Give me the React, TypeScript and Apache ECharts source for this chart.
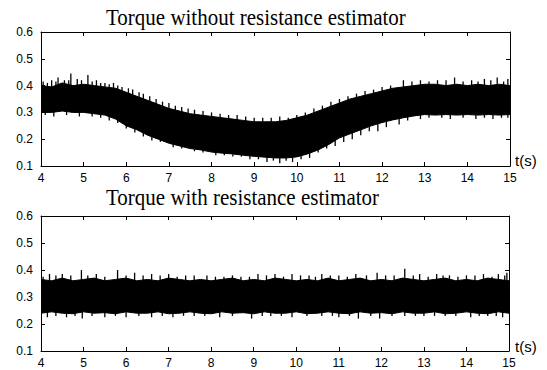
import React, { useEffect, useRef } from "react";
import * as echarts from "echarts";

// time samples of the envelope (s)
const times = [4, 4.25, 4.5, 4.75, 5, 5.25, 5.5, 5.75, 6, 6.25, 6.5, 6.75, 7, 7.25, 7.5, 7.75, 8, 8.25, 8.5, 8.75, 9, 9.25, 9.5, 9.75, 10, 10.25, 10.5, 10.75, 11, 11.25, 11.5, 11.75, 12, 12.25, 12.5, 12.75, 13, 13.25, 13.5, 13.75, 14, 14.25, 14.5, 14.75, 15];

// Torque without resistance estimator: band envelope
const withoutUpper = [0.40, 0.395, 0.41, 0.40, 0.405, 0.40, 0.395, 0.39, 0.375, 0.36, 0.345, 0.33, 0.315, 0.305, 0.295, 0.29, 0.285, 0.28, 0.275, 0.27, 0.265, 0.265, 0.265, 0.27, 0.28, 0.29, 0.305, 0.32, 0.335, 0.35, 0.36, 0.37, 0.38, 0.39, 0.395, 0.40, 0.405, 0.405, 0.40, 0.405, 0.40, 0.405, 0.40, 0.405, 0.40];
const withoutLower = [0.30, 0.30, 0.305, 0.30, 0.30, 0.295, 0.29, 0.275, 0.25, 0.235, 0.215, 0.20, 0.185, 0.175, 0.165, 0.16, 0.152, 0.148, 0.145, 0.14, 0.136, 0.133, 0.13, 0.13, 0.134, 0.145, 0.16, 0.18, 0.205, 0.22, 0.235, 0.25, 0.262, 0.272, 0.28, 0.287, 0.292, 0.29, 0.292, 0.29, 0.292, 0.29, 0.292, 0.29, 0.292];
// spikes: [t, from, to]
const withoutSpikes = [
  [4.05, 0.36, 0.415], [4.25, 0.36, 0.42], [4.4, 0.36, 0.43], [4.55, 0.36, 0.42], [4.7, 0.36, 0.445], [4.85, 0.36, 0.425], [5.1, 0.36, 0.44], [5.3, 0.36, 0.42], [5.5, 0.35, 0.41], [5.7, 0.34, 0.41], [5.9, 0.33, 0.395], [6.15, 0.31, 0.385], [6.4, 0.29, 0.37], [6.7, 0.27, 0.35], [7.0, 0.25, 0.335], [7.3, 0.24, 0.32], [7.6, 0.23, 0.31], [8.0, 0.22, 0.30], [8.4, 0.21, 0.29], [8.8, 0.2, 0.285], [9.2, 0.2, 0.28], [9.6, 0.2, 0.285], [10.0, 0.2, 0.29], [10.4, 0.23, 0.315], [10.8, 0.25, 0.34], [11.2, 0.28, 0.36], [11.6, 0.3, 0.38], [12.0, 0.32, 0.395], [12.5, 0.34, 0.42], [12.9, 0.35, 0.42], [13.3, 0.35, 0.42], [13.7, 0.35, 0.43], [14.1, 0.35, 0.42], [14.4, 0.35, 0.425], [14.7, 0.35, 0.43], [14.95, 0.35, 0.425],
  [4.15, 0.36, 0.41], [4.35, 0.36, 0.415], [4.65, 0.36, 0.42], [4.95, 0.36, 0.42], [5.2, 0.36, 0.415], [5.4, 0.35, 0.41], [5.6, 0.35, 0.405], [5.8, 0.34, 0.40], [6.05, 0.32, 0.39], [6.3, 0.3, 0.375], [6.55, 0.28, 0.36], [6.85, 0.26, 0.34], [7.15, 0.25, 0.325], [7.45, 0.24, 0.315], [7.8, 0.23, 0.305], [8.2, 0.22, 0.295], [8.6, 0.21, 0.29], [9.0, 0.2, 0.28], [9.4, 0.2, 0.28], [9.8, 0.2, 0.28], [10.2, 0.22, 0.30], [10.6, 0.24, 0.325], [11.0, 0.27, 0.35], [11.4, 0.29, 0.37], [11.8, 0.31, 0.385], [12.2, 0.33, 0.40], [12.7, 0.34, 0.415], [13.1, 0.35, 0.415], [13.5, 0.35, 0.42], [13.9, 0.35, 0.415], [14.25, 0.35, 0.415], [14.55, 0.35, 0.42], [14.85, 0.35, 0.415],
  [4.3, 0.35, 0.285], [4.9, 0.35, 0.285], [5.6, 0.34, 0.27], [6.2, 0.3, 0.225], [6.6, 0.28, 0.195], [7.1, 0.25, 0.17], [7.6, 0.23, 0.155], [8.1, 0.22, 0.14], [8.5, 0.21, 0.135], [8.9, 0.2, 0.125], [9.3, 0.2, 0.115], [9.6, 0.2, 0.11], [9.9, 0.2, 0.115], [10.3, 0.21, 0.13], [10.9, 0.26, 0.175], [11.3, 0.28, 0.2], [11.9, 0.31, 0.23], [12.4, 0.33, 0.255], [12.9, 0.35, 0.275], [13.6, 0.35, 0.275], [14.2, 0.35, 0.275], [14.6, 0.35, 0.275], [14.95, 0.35, 0.28],
  [4.1, 0.35, 0.29], [4.6, 0.35, 0.29], [5.2, 0.35, 0.285], [5.4, 0.34, 0.28], [5.8, 0.33, 0.26], [6.0, 0.31, 0.24], [6.4, 0.29, 0.21], [6.8, 0.26, 0.19], [7.3, 0.24, 0.165], [7.8, 0.23, 0.15], [8.3, 0.21, 0.14], [8.7, 0.2, 0.135], [9.1, 0.2, 0.125], [9.45, 0.2, 0.12], [9.75, 0.2, 0.12], [10.1, 0.2, 0.125], [10.5, 0.23, 0.15], [10.7, 0.25, 0.165], [11.1, 0.27, 0.19], [11.5, 0.29, 0.215], [11.7, 0.3, 0.23], [12.1, 0.32, 0.245], [12.6, 0.34, 0.27], [13.1, 0.35, 0.28], [13.4, 0.35, 0.28], [13.9, 0.35, 0.28], [14.4, 0.35, 0.28], [14.8, 0.35, 0.28],
];

// Torque with resistance estimator: band envelope
const withUpper = [0.365, 0.36, 0.37, 0.36, 0.365, 0.37, 0.36, 0.365, 0.37, 0.36, 0.365, 0.36, 0.37, 0.365, 0.36, 0.365, 0.36, 0.365, 0.37, 0.36, 0.365, 0.36, 0.37, 0.365, 0.36, 0.365, 0.36, 0.37, 0.36, 0.365, 0.37, 0.36, 0.365, 0.36, 0.37, 0.365, 0.36, 0.365, 0.37, 0.36, 0.365, 0.36, 0.37, 0.365, 0.36];
const withLower = [0.24, 0.245, 0.24, 0.238, 0.245, 0.24, 0.242, 0.238, 0.245, 0.24, 0.24, 0.245, 0.238, 0.24, 0.245, 0.24, 0.238, 0.245, 0.24, 0.242, 0.238, 0.245, 0.24, 0.24, 0.245, 0.238, 0.24, 0.245, 0.24, 0.238, 0.245, 0.24, 0.242, 0.238, 0.245, 0.24, 0.24, 0.245, 0.238, 0.24, 0.245, 0.24, 0.238, 0.245, 0.24];
const withSpikes = [
  [4.2, 0.3, 0.385], [4.5, 0.3, 0.385], [4.95, 0.3, 0.40], [5.3, 0.3, 0.385], [5.8, 0.3, 0.40], [6.2, 0.3, 0.39], [6.6, 0.3, 0.385], [7.0, 0.3, 0.385], [7.4, 0.3, 0.38], [7.9, 0.3, 0.38], [8.3, 0.3, 0.375], [8.7, 0.3, 0.375], [9.1, 0.3, 0.385], [9.5, 0.3, 0.385], [9.9, 0.3, 0.385], [10.3, 0.3, 0.38], [10.6, 0.3, 0.385], [11.0, 0.3, 0.38], [11.4, 0.3, 0.385], [11.9, 0.3, 0.39], [12.3, 0.3, 0.38], [12.55, 0.3, 0.405], [12.9, 0.3, 0.385], [13.3, 0.3, 0.385], [13.6, 0.3, 0.38], [14.0, 0.3, 0.38], [14.4, 0.3, 0.385], [14.75, 0.3, 0.385], [14.95, 0.3, 0.39],
  [4.05, 0.3, 0.375], [4.35, 0.3, 0.38], [4.7, 0.3, 0.38], [5.1, 0.3, 0.38], [5.5, 0.3, 0.375], [6.0, 0.3, 0.38], [6.4, 0.3, 0.38], [6.8, 0.3, 0.38], [7.2, 0.3, 0.375], [7.6, 0.3, 0.38], [8.1, 0.3, 0.375], [8.5, 0.3, 0.38], [8.9, 0.3, 0.375], [9.3, 0.3, 0.38], [9.7, 0.3, 0.375], [10.1, 0.3, 0.38], [10.45, 0.3, 0.375], [10.8, 0.3, 0.38], [11.2, 0.3, 0.375], [11.65, 0.3, 0.38], [12.1, 0.3, 0.38], [12.75, 0.3, 0.38], [13.1, 0.3, 0.375], [13.45, 0.3, 0.38], [13.8, 0.3, 0.375], [14.2, 0.3, 0.38], [14.6, 0.3, 0.375], [14.9, 0.3, 0.38],
  [4.15, 0.3, 0.225], [4.6, 0.3, 0.225], [4.97, 0.3, 0.22], [5.5, 0.3, 0.225], [6.0, 0.3, 0.225], [6.6, 0.3, 0.225], [7.1, 0.3, 0.225], [7.6, 0.3, 0.23], [8.2, 0.3, 0.225], [8.95, 0.3, 0.22], [9.4, 0.3, 0.23], [9.9, 0.3, 0.225], [10.6, 0.3, 0.23], [11.0, 0.3, 0.225], [11.46, 0.3, 0.22], [11.96, 0.3, 0.22], [12.55, 0.3, 0.23], [13.0, 0.3, 0.23], [13.5, 0.3, 0.23], [14.1, 0.3, 0.225], [14.5, 0.3, 0.23], [14.85, 0.3, 0.225],
  [4.35, 0.3, 0.23], [4.8, 0.3, 0.23], [5.2, 0.3, 0.23], [5.75, 0.3, 0.23], [6.3, 0.3, 0.23], [6.85, 0.3, 0.23], [7.35, 0.3, 0.23], [7.85, 0.3, 0.23], [8.5, 0.3, 0.23], [9.2, 0.3, 0.23], [9.65, 0.3, 0.23], [10.25, 0.3, 0.23], [10.85, 0.3, 0.23], [11.25, 0.3, 0.23], [11.75, 0.3, 0.23], [12.25, 0.3, 0.23], [12.8, 0.3, 0.23], [13.25, 0.3, 0.23], [13.75, 0.3, 0.23], [14.3, 0.3, 0.23], [14.7, 0.3, 0.23],
];

const titles = ["Torque without resistance estimator", "Torque with resistance estimator"];
const xTicks = { min: 4, max: 15, interval: 1 };
const yTicks = { min: 0.1, max: 0.6, interval: 0.1 };

const sans = "'Liberation Sans', Arial, sans-serif";
const serif = "'Liberation Serif', 'Times New Roman', serif";

function bandSeries(idx: number, upper: number[], lower: number[]) {
  return {
    type: "custom",
    xAxisIndex: idx * 2,
    yAxisIndex: idx * 2,
    clip: true,
    silent: true,
    data: times.map((t, i) => [t, lower[i], upper[i]]),
    encode: { x: 0, y: [1, 2] },
    renderItem: (params: any, api: any) => {
      if (params.dataIndex !== 0) return null;
      const pts: number[][] = [];
      for (let i = 0; i < times.length; i++) pts.push(api.coord([times[i], upper[i]]));
      for (let i = times.length - 1; i >= 0; i--) pts.push(api.coord([times[i], lower[i]]));
      return {
        type: "polygon",
        shape: { points: pts },
        style: { fill: "#000", stroke: "#000", lineWidth: 1 },
      };
    },
  };
}

function spikeSeries(idx: number, spikes: number[][]) {
  return {
    type: "custom",
    xAxisIndex: idx * 2,
    yAxisIndex: idx * 2,
    clip: true,
    silent: true,
    data: spikes,
    encode: { x: 0, y: [1, 2] },
    renderItem: (params: any, api: any) => {
      const a = api.coord([api.value(0), api.value(1)]);
      const b = api.coord([api.value(0), api.value(2)]);
      return {
        type: "line",
        shape: { x1: a[0], y1: a[1], x2: b[0], y2: b[1] },
        style: { stroke: "#000", lineWidth: 1.3 },
      };
    },
  };
}

export default function App() {
  const ref = useRef<HTMLDivElement>(null);
  useEffect(() => {
    if (!ref.current) return;
    const chart = echarts.init(ref.current, null, { renderer: "svg" });
    const grids = [
      { left: 41, right: 37, top: 32, height: 134 },
      { left: 41, right: 38, top: 216, height: 135 },
    ];
    const xAxes: any[] = [];
    const yAxes: any[] = [];
    grids.forEach((_, gi) => {
      const line = { show: true, lineStyle: { color: "#000", width: 1 } };
      const tick = { show: true, inside: true, length: 4, lineStyle: { color: "#000" } };
      xAxes.push({
        type: "value", gridIndex: gi, position: "bottom", ...xTicks,
        axisLine: { ...line, onZero: false }, axisTick: tick, splitLine: { show: false },
        axisLabel: { color: "#000", fontFamily: sans, fontSize: 12, margin: 6 },
      });
      xAxes.push({
        type: "value", gridIndex: gi, position: "top", ...xTicks,
        axisLine: { ...line, onZero: false }, axisTick: tick, splitLine: { show: false },
        axisLabel: { show: false },
      });
      yAxes.push({
        type: "value", gridIndex: gi, position: "left", ...yTicks,
        axisLine: { ...line, onZero: false }, axisTick: tick, splitLine: { show: false },
        axisLabel: { color: "#000", fontFamily: sans, fontSize: 12, margin: 8, formatter: (v: number) => v.toFixed(1) },
      });
      yAxes.push({
        type: "value", gridIndex: gi, position: "right", ...yTicks,
        axisLine: { ...line, onZero: false }, axisTick: tick, splitLine: { show: false },
        axisLabel: { show: false },
      });
    });
    const titleStyle = (text: string) => ({
      text, font: `21px ${serif}`, fill: "#000", verticalAlign: "middle", align: "left",
    });
    chart.setOption({
      animation: false,
      backgroundColor: "#fff",
      grid: grids,
      xAxis: xAxes,
      yAxis: yAxes,
      graphic: [
        { type: "text", x: 106, y: 17, scaleY: 1.12, style: titleStyle(titles[0]) },
        { type: "text", x: 106, y: 197, scaleY: 1.12, style: titleStyle(titles[1]) },
        { type: "text", x: 515, y: 160, style: { text: "t(s)", font: `15px ${sans}`, fill: "#000", verticalAlign: "middle" } },
        { type: "text", x: 515, y: 346, style: { text: "t(s)", font: `15px ${sans}`, fill: "#000", verticalAlign: "middle" } },
      ],
      series: [
        bandSeries(0, withoutUpper, withoutLower),
        spikeSeries(0, withoutSpikes),
        bandSeries(1, withUpper, withLower),
        spikeSeries(1, withSpikes),
      ],
    });
    return () => chart.dispose();
  }, []);
  return <div ref={ref} style={{ width: 547, height: 370, position: "absolute", left: 0, top: 0 }} />;
}
